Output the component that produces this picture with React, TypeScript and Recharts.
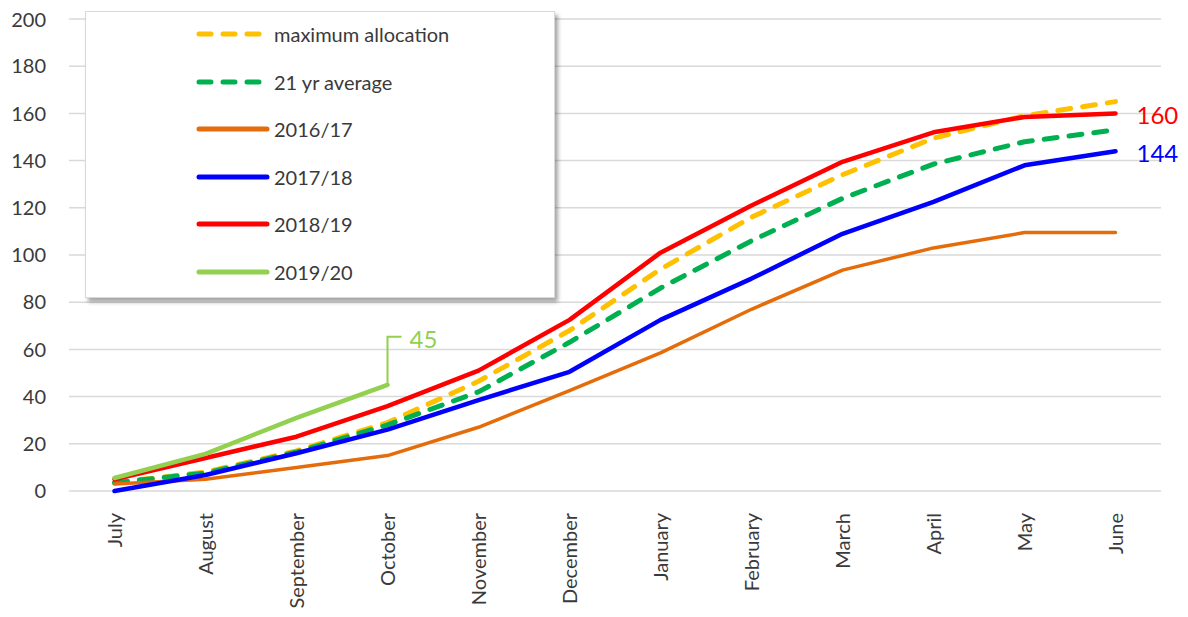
import React from 'react';
import { LineChart, Line, XAxis, YAxis, CartesianGrid, Legend, LabelList } from 'recharts';

const months = ['July', 'August', 'September', 'October', 'November', 'December', 'January', 'February', 'March', 'April', 'May', 'June'];
const maxAllocation = [3.5, 8, 17, 29, 46.5, 68, 94, 116, 134, 149.5, 159, 165];
const avg21 = [3.5, 7.6, 16.5, 28, 42, 63, 86, 106, 124, 138.5, 148, 153];
const y2016 = [3, 5, 10, 15, 27, 42.5, 58.5, 77, 93.6, 103, 109.5, 109.5];
const y2017 = [0, 6.8, 16, 26, 38.5, 50.5, 72.5, 90, 109, 122.5, 138, 144];
const y2018 = [5, 14, 23, 36, 51, 72.5, 101, 121, 139.5, 152, 158.5, 160];
const y2019 = [5.5, 15.7, 31, 45];
const yTicks = [0, 20, 40, 60, 80, 100, 120, 140, 160, 180, 200];

const series = [
  { key: 'max', name: 'maximum allocation', color: '#FFC000', dashed: true, width: 5 },
  { key: 'avg', name: '21 yr average', color: '#00B050', dashed: true, width: 5 },
  { key: 's2016', name: '2016/17', color: '#E46C0A', dashed: false, width: 3.5 },
  { key: 's2017', name: '2017/18', color: '#0000FF', dashed: false, width: 4.5 },
  { key: 's2018', name: '2018/19', color: '#FF0000', dashed: false, width: 4.5 },
  { key: 's2019', name: '2019/20', color: '#92D050', dashed: false, width: 4.5 },
];

const data = months.map((m, i) => ({
  month: m,
  max: maxAllocation[i],
  avg: avg21[i],
  s2016: y2016[i],
  s2017: y2017[i],
  s2018: y2018[i],
  s2019: i < y2019.length ? y2019[i] : null,
}));

const FONT = 'Lato, "Open Sans", sans-serif';
const TEXT = '#3a3a3a';

const MonthTick = ({ x, y, payload }: any) => (
  <text
    transform={`translate(${x},${y + 14}) rotate(-90)`}
    textAnchor="end"
    dy="0.35em"
    fill={TEXT}
    fontSize={20}
    fontFamily={FONT}
  >
    {payload.value}
  </text>
);

const endLabel = (lastIndex: number, color: string) => (props: any) => {
  const { x, y, index, value } = props;
  if (index !== lastIndex) return null;
  return (
    <text x={x + 21} y={y + 2} dy="0.35em" fill={color} fontSize={24} fontFamily={FONT}>
      {value}
    </text>
  );
};

const leaderLabel = (props: any) => {
  const { x, y, index, value } = props;
  if (index !== y2019.length - 1) return null;
  return (
    <g>
      <path d={`M${x},${y} L${x},${y - 48} L${x + 14},${y - 48}`} stroke="#92D050" strokeWidth={2} fill="none" />
      <text x={x + 22} y={y - 45} dy="0.35em" fill="#92D050" fontSize={24} fontFamily={FONT}>
        {value}
      </text>
    </g>
  );
};

const LegendBox = () => (
  <div
    style={{
      width: 470,
      height: 287,
      background: '#fff',
      border: '1px solid #d9d9d9',
      boxShadow: '3px 4px 4px rgba(0,0,0,0.35)',
      position: 'relative',
      boxSizing: 'border-box',
    }}
  >
    {series.map((s, i) => (
      <div
        key={s.key}
        style={{ position: 'absolute', left: 110, top: 22 + i * 47.6 - 12, height: 24, display: 'flex', alignItems: 'center' }}
      >
        <svg width={74} height={10} style={{ display: 'block' }}>
          <line
            x1={3}
            y1={5}
            x2={s.dashed ? 66 : 71}
            y2={5}
            stroke={s.color}
            strokeWidth={5}
            strokeDasharray={s.dashed ? '12 12' : undefined}
            strokeLinecap="round"
          />
        </svg>
        <span style={{ marginLeft: 4, fontFamily: FONT, fontSize: 20, color: TEXT, whiteSpace: 'nowrap' }}>{s.name}</span>
      </div>
    ))}
  </div>
);

export default function App() {
  return (
    <LineChart width={1172} height={609} data={data} margin={{ top: 11, right: 19, left: 0, bottom: 0 }}>
      <CartesianGrid vertical={false} stroke="#d9d9d9" strokeWidth={1.5} />
      <XAxis
        dataKey="month"
        interval={0}
        height={126}
        axisLine={false}
        tickLine={false}
        padding={{ left: 45.5, right: 45.5 }}
        tick={<MonthTick />}
      />
      <YAxis
        width={61}
        domain={[0, 200]}
        ticks={yTicks}
        axisLine={false}
        tickLine={false}
        tickSize={0}
        tickMargin={23}
        tick={{ fill: TEXT, fontSize: 20, fontFamily: FONT }}
      />
      <Legend
        layout="vertical"
        align="center"
        verticalAlign="middle"
        content={<LegendBox />}
        wrapperStyle={{ left: 77, top: 3, width: 470, height: 287 }}
      />
      {series.map((s) => (
        <Line
          key={s.key}
          type="linear"
          dataKey={s.key}
          name={s.name}
          stroke={s.color}
          strokeWidth={s.width}
          strokeDasharray={s.dashed ? '13 12' : undefined}
          strokeLinecap="round"
          strokeLinejoin="round"
          dot={false}
          activeDot={false}
          connectNulls={false}
          isAnimationActive={false}
        >
          {s.key === 's2018' && <LabelList dataKey="s2018" content={endLabel(months.length - 1, '#FF0000')} />}
          {s.key === 's2017' && <LabelList dataKey="s2017" content={endLabel(months.length - 1, '#0000FF')} />}
          {s.key === 's2019' && <LabelList dataKey="s2019" content={leaderLabel} />}
        </Line>
      ))}
    </LineChart>
  );
}
